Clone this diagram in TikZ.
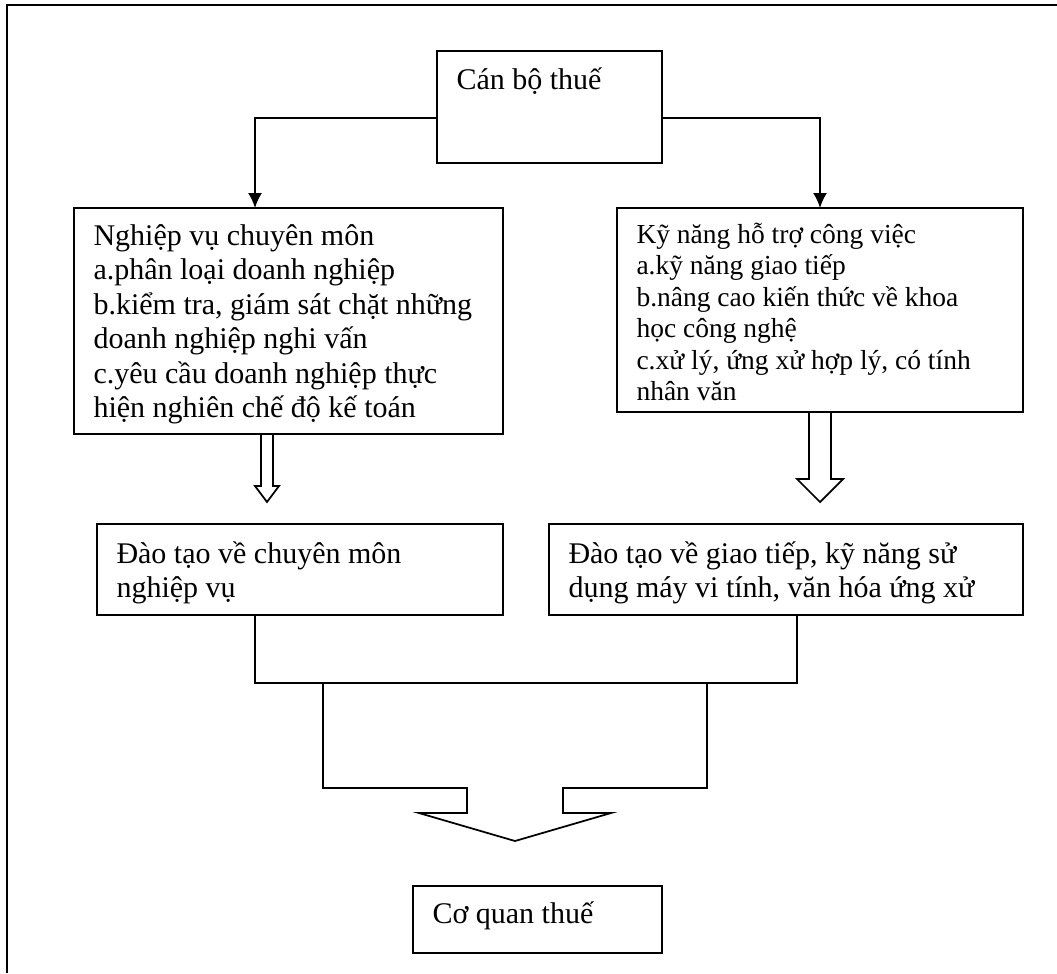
\documentclass[tikz,border=0pt]{standalone}
\usepackage{fontspec}
\setmainfont{Liberation Serif}
\usetikzlibrary{arrows.meta}

\begin{document}
\begin{tikzpicture}[x=0.4pt,y=-0.4pt,>/.tip={Latex[length=6pt,width=5.6pt]},
	box/.style={draw,line width=0.8pt,anchor=north west,outer sep=0pt,inner xsep=7.8pt,inner ysep=0pt,align=flush left,font=\fontsize{12pt}{13.8pt}\selectfont},
	link/.style={line width=0.7pt}]
	\useasboundingbox (0,0) rectangle (1057,973);
	\draw[line width=0.8pt] (7,973) -- (7,5) -- (1057,5);

	\draw (437,51) node (CB) [box,text width=74.4pt,text height=15.2pt,text depth=29.6pt] {Cán bộ thuế};
	\draw (74,208) node (NV) [box,text width=156pt,text height=14.8pt,text depth=75.6pt] {Nghiệp vụ chuyên môn\\ a.phân loại doanh nghiệp\\ b.kiểm tra, giám sát chặt những\\ doanh nghiệp nghi vấn\\ c.yêu cầu doanh nghiệp thực\\ hiện nghiên chế độ kế toán};
	\draw (617,208) node (KN) [box,font=\fontsize{11pt}{12.6pt}\selectfont,text width=146.8pt,text height=14pt,text depth=67.6pt] {Kỹ năng hỗ trợ công việc\\ a.kỹ năng giao tiếp\\ b.nâng cao kiến thức về khoa\\ học công nghệ\\ c.xử lý, ứng xử hợp lý, có tính\\ nhân văn};
	\draw (97,524) node (DT1) [box,text width=146.8pt,text height=15.6pt,text depth=20.8pt] {Đào tạo về chuyên môn\\ nghiệp vụ};
	\draw (549,524) node (DT2) [box,text width=174pt,text height=15.6pt,text depth=20.8pt] {Đào tạo về giao tiếp, kỹ năng sử\\ dụng máy vi tính, văn hóa ứng xử};
	\draw (413,886) node (CQ) [box,text width=84pt,text height=14.8pt,text depth=12pt] {Cơ quan thuế};

	\draw[->,link] ([yshift=-4.4pt]CB.west) -| ([xshift=-13.4pt]NV.north);
	\draw[->,link] ([yshift=-4.4pt]CB.east) -| (KN.north);

	% hollow arrows
	\draw[link] ([xshift=-11pt]NV.south) -- ++(0,52) -- ++(-6,0) -- ++(12,16) -- ++(12,-16) -- ++(-6,0) -- ++(0,-52);
	\draw[link] ([xshift=-4.4pt]KN.south) -- ++(0,67) -- ++(-12,0) -- ++(23,23) -- ++(23,-23) -- ++(-12,0) -- ++(0,-67);

	% merge
	\draw[link] ([xshift=-18pt]DT1.south) -- ++(0,68) coordinate (M1) -| ([xshift=4.4pt]DT2.south);
	\draw[link] ([xshift=27.2pt]M1) -- ++(0,105) -- ++(144,0) -- ++(0,25) -- ++(-48,0) -- ++(96,28) -- ++(96,-28) -- ++(-48,0) -- ++(0,-25) -- ++(144,0) -- ++(0,-105);
\end{tikzpicture}
\end{document}
